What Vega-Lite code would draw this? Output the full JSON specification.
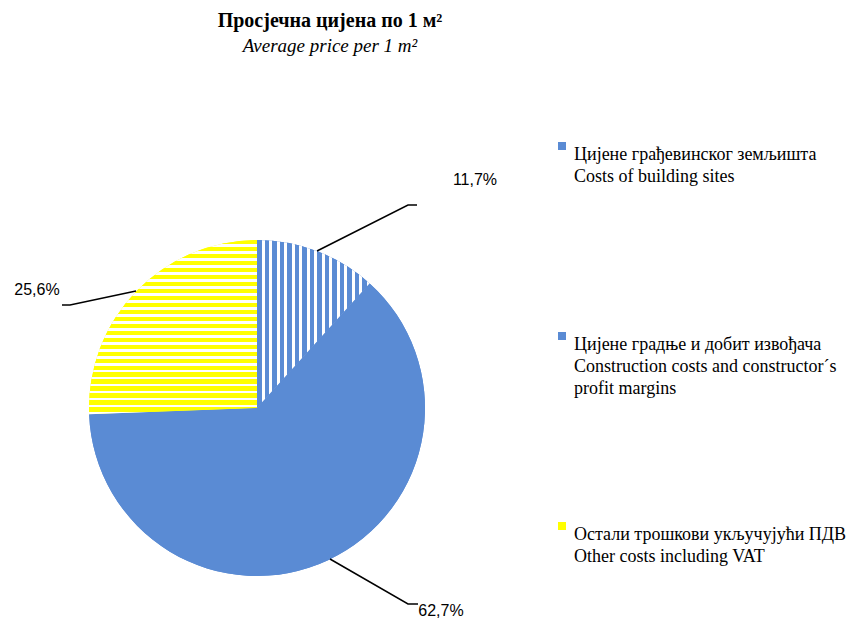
{
  "$schema": "https://vega.github.io/schema/vega-lite/v6.json",
  "autosize": "none",
  "padding": {"left": 0, "top": 193, "right": 337, "bottom": 0},
  "width": 514,
  "height": 430,
  "background": "white",
  "config": {"view": {"stroke": null}},
  "title": {
    "text": "Просјечна цијена по 1 м²",
    "subtitle": "Average price per 1 m²",
    "font": "Liberation Serif",
    "fontSize": 20,
    "fontWeight": "bold",
    "color": "black",
    "subtitleFont": "Liberation Serif",
    "subtitleFontSize": 19,
    "subtitleFontStyle": "italic",
    "subtitleColor": "black",
    "subtitlePadding": 6,
    "anchor": "middle",
    "dx": 73,
    "offset": 81
  },
  "datasets": {
    "slices": [
      {"cat": "Цијене грађевинског земљишта|Costs of building sites|", "share": 11.7, "ord": 1},
      {"cat": "Цијене градње и добит извођача|Construction costs and constructor´s|profit margins", "share": 62.7, "ord": 2},
      {"cat": "Остали трошкови укључујући ПДВ|Other costs including VAT|", "share": 25.6, "ord": 3}
    ],
    "leaders": [
      {"lbl": "11,7%", "step": 1, "px": 60, "py": -157},
      {"lbl": "11,7%", "step": 2, "px": 151, "py": -203},
      {"lbl": "11,7%", "step": 3, "px": 160, "py": -203},
      {"lbl": "25,6%", "step": 1, "px": -121, "py": -117},
      {"lbl": "25,6%", "step": 2, "px": -187, "py": -103},
      {"lbl": "25,6%", "step": 3, "px": -195, "py": -103},
      {"lbl": "62,7%", "step": 1, "px": 73, "py": 151},
      {"lbl": "62,7%", "step": 2, "px": 151, "py": 196},
      {"lbl": "62,7%", "step": 3, "px": 161, "py": 196}
    ],
    "labels": [
      {"lbl": "11,7%", "px": 218, "py": -228},
      {"lbl": "25,6%", "px": -220, "py": -118},
      {"lbl": "62,7%", "px": 184, "py": 203}
    ]
  },
  "layer": [
    {
      "data": {"name": "slices"},
      "mark": {"type": "arc", "outerRadius": 168},
      "encoding": {
        "theta": {"field": "share", "type": "quantitative", "stack": true},
        "order": {"field": "ord", "type": "quantitative"},
        "fill": {
          "field": "cat",
          "type": "nominal",
          "sort": null,
          "scale": {
            "domain": [
              "Цијене грађевинског земљишта|Costs of building sites|",
              "Цијене градње и добит извођача|Construction costs and constructor´s|profit margins",
              "Остали трошкови укључујући ПДВ|Other costs including VAT|"
            ],
            "range": ["#5A8BD4", "#5A8BD4", "#FFFF00"]
          },
          "legend": {
            "orient": "none",
            "legendX": 553,
            "legendY": -56,
            "title": null,
            "labelExpr": "split(datum.label, '|')",
            "labelFont": "Liberation Serif",
            "labelFontSize": 18,
            "labelColor": "black",
            "labelLimit": 400,
            "labelBaseline": "top",
            "labelOffset": 3,
            "symbolType": "square",
            "symbolSize": 64,
            "symbolStrokeWidth": 0,
            "rowPadding": 119,
            "encode": {"labels": {"update": {"lineHeight": {"value": 22}}}}
          }
        }
      }
    },
    {
      "data": {"name": "slices"},
      "mark": {"type": "arc", "outerRadius": 168},
      "encoding": {
        "theta": {"field": "share", "type": "quantitative", "stack": true},
        "order": {"field": "ord", "type": "quantitative"},
        "fill": {
          "condition": [
            {
              "test": "datum.ord == 1",
              "value": {
                "gradient": "linear", "x1": 0, "y1": 0, "x2": 1, "y2": 0,
                "stops": [
                  {"offset": 0, "color": "#5A8BD4"}, {"offset": 0.0413, "color": "#5A8BD4"}, {"offset": 0.0413, "color": "#ffffff"}, {"offset": 0.0667, "color": "#ffffff"},
                  {"offset": 0.0667, "color": "#5A8BD4"}, {"offset": 0.108, "color": "#5A8BD4"}, {"offset": 0.108, "color": "#ffffff"}, {"offset": 0.1333, "color": "#ffffff"},
                  {"offset": 0.1333, "color": "#5A8BD4"}, {"offset": 0.1747, "color": "#5A8BD4"}, {"offset": 0.1747, "color": "#ffffff"}, {"offset": 0.2, "color": "#ffffff"},
                  {"offset": 0.2, "color": "#5A8BD4"}, {"offset": 0.2413, "color": "#5A8BD4"}, {"offset": 0.2413, "color": "#ffffff"}, {"offset": 0.2667, "color": "#ffffff"},
                  {"offset": 0.2667, "color": "#5A8BD4"}, {"offset": 0.308, "color": "#5A8BD4"}, {"offset": 0.308, "color": "#ffffff"}, {"offset": 0.3333, "color": "#ffffff"},
                  {"offset": 0.3333, "color": "#5A8BD4"}, {"offset": 0.3747, "color": "#5A8BD4"}, {"offset": 0.3747, "color": "#ffffff"}, {"offset": 0.4, "color": "#ffffff"},
                  {"offset": 0.4, "color": "#5A8BD4"}, {"offset": 0.4413, "color": "#5A8BD4"}, {"offset": 0.4413, "color": "#ffffff"}, {"offset": 0.4667, "color": "#ffffff"},
                  {"offset": 0.4667, "color": "#5A8BD4"}, {"offset": 0.508, "color": "#5A8BD4"}, {"offset": 0.508, "color": "#ffffff"}, {"offset": 0.5333, "color": "#ffffff"},
                  {"offset": 0.5333, "color": "#5A8BD4"}, {"offset": 0.5747, "color": "#5A8BD4"}, {"offset": 0.5747, "color": "#ffffff"}, {"offset": 0.6, "color": "#ffffff"},
                  {"offset": 0.6, "color": "#5A8BD4"}, {"offset": 0.6413, "color": "#5A8BD4"}, {"offset": 0.6413, "color": "#ffffff"}, {"offset": 0.6667, "color": "#ffffff"},
                  {"offset": 0.6667, "color": "#5A8BD4"}, {"offset": 0.708, "color": "#5A8BD4"}, {"offset": 0.708, "color": "#ffffff"}, {"offset": 0.7333, "color": "#ffffff"},
                  {"offset": 0.7333, "color": "#5A8BD4"}, {"offset": 0.7747, "color": "#5A8BD4"}, {"offset": 0.7747, "color": "#ffffff"}, {"offset": 0.8, "color": "#ffffff"},
                  {"offset": 0.8, "color": "#5A8BD4"}, {"offset": 0.8413, "color": "#5A8BD4"}, {"offset": 0.8413, "color": "#ffffff"}, {"offset": 0.8667, "color": "#ffffff"},
                  {"offset": 0.8667, "color": "#5A8BD4"}, {"offset": 0.908, "color": "#5A8BD4"}, {"offset": 0.908, "color": "#ffffff"}, {"offset": 0.9333, "color": "#ffffff"},
                  {"offset": 0.9333, "color": "#5A8BD4"}, {"offset": 0.9747, "color": "#5A8BD4"}, {"offset": 0.9747, "color": "#ffffff"}, {"offset": 1, "color": "#ffffff"}
                ]
              }
            },
            {
              "test": "datum.ord == 3",
              "value": {
                "gradient": "linear", "x1": 0, "y1": 0, "x2": 0, "y2": 1,
                "stops": [
                  {"offset": 0, "color": "#FFFF00"}, {"offset": 0.024, "color": "#FFFF00"}, {"offset": 0.024, "color": "#ffffff"}, {"offset": 0.04, "color": "#ffffff"},
                  {"offset": 0.04, "color": "#FFFF00"}, {"offset": 0.064, "color": "#FFFF00"}, {"offset": 0.064, "color": "#ffffff"}, {"offset": 0.08, "color": "#ffffff"},
                  {"offset": 0.08, "color": "#FFFF00"}, {"offset": 0.104, "color": "#FFFF00"}, {"offset": 0.104, "color": "#ffffff"}, {"offset": 0.12, "color": "#ffffff"},
                  {"offset": 0.12, "color": "#FFFF00"}, {"offset": 0.144, "color": "#FFFF00"}, {"offset": 0.144, "color": "#ffffff"}, {"offset": 0.16, "color": "#ffffff"},
                  {"offset": 0.16, "color": "#FFFF00"}, {"offset": 0.184, "color": "#FFFF00"}, {"offset": 0.184, "color": "#ffffff"}, {"offset": 0.2, "color": "#ffffff"},
                  {"offset": 0.2, "color": "#FFFF00"}, {"offset": 0.224, "color": "#FFFF00"}, {"offset": 0.224, "color": "#ffffff"}, {"offset": 0.24, "color": "#ffffff"},
                  {"offset": 0.24, "color": "#FFFF00"}, {"offset": 0.264, "color": "#FFFF00"}, {"offset": 0.264, "color": "#ffffff"}, {"offset": 0.28, "color": "#ffffff"},
                  {"offset": 0.28, "color": "#FFFF00"}, {"offset": 0.304, "color": "#FFFF00"}, {"offset": 0.304, "color": "#ffffff"}, {"offset": 0.32, "color": "#ffffff"},
                  {"offset": 0.32, "color": "#FFFF00"}, {"offset": 0.344, "color": "#FFFF00"}, {"offset": 0.344, "color": "#ffffff"}, {"offset": 0.36, "color": "#ffffff"},
                  {"offset": 0.36, "color": "#FFFF00"}, {"offset": 0.384, "color": "#FFFF00"}, {"offset": 0.384, "color": "#ffffff"}, {"offset": 0.4, "color": "#ffffff"},
                  {"offset": 0.4, "color": "#FFFF00"}, {"offset": 0.424, "color": "#FFFF00"}, {"offset": 0.424, "color": "#ffffff"}, {"offset": 0.44, "color": "#ffffff"},
                  {"offset": 0.44, "color": "#FFFF00"}, {"offset": 0.464, "color": "#FFFF00"}, {"offset": 0.464, "color": "#ffffff"}, {"offset": 0.48, "color": "#ffffff"},
                  {"offset": 0.48, "color": "#FFFF00"}, {"offset": 0.504, "color": "#FFFF00"}, {"offset": 0.504, "color": "#ffffff"}, {"offset": 0.52, "color": "#ffffff"},
                  {"offset": 0.52, "color": "#FFFF00"}, {"offset": 0.544, "color": "#FFFF00"}, {"offset": 0.544, "color": "#ffffff"}, {"offset": 0.56, "color": "#ffffff"},
                  {"offset": 0.56, "color": "#FFFF00"}, {"offset": 0.584, "color": "#FFFF00"}, {"offset": 0.584, "color": "#ffffff"}, {"offset": 0.6, "color": "#ffffff"},
                  {"offset": 0.6, "color": "#FFFF00"}, {"offset": 0.624, "color": "#FFFF00"}, {"offset": 0.624, "color": "#ffffff"}, {"offset": 0.64, "color": "#ffffff"},
                  {"offset": 0.64, "color": "#FFFF00"}, {"offset": 0.664, "color": "#FFFF00"}, {"offset": 0.664, "color": "#ffffff"}, {"offset": 0.68, "color": "#ffffff"},
                  {"offset": 0.68, "color": "#FFFF00"}, {"offset": 0.704, "color": "#FFFF00"}, {"offset": 0.704, "color": "#ffffff"}, {"offset": 0.72, "color": "#ffffff"},
                  {"offset": 0.72, "color": "#FFFF00"}, {"offset": 0.744, "color": "#FFFF00"}, {"offset": 0.744, "color": "#ffffff"}, {"offset": 0.76, "color": "#ffffff"},
                  {"offset": 0.76, "color": "#FFFF00"}, {"offset": 0.784, "color": "#FFFF00"}, {"offset": 0.784, "color": "#ffffff"}, {"offset": 0.8, "color": "#ffffff"},
                  {"offset": 0.8, "color": "#FFFF00"}, {"offset": 0.824, "color": "#FFFF00"}, {"offset": 0.824, "color": "#ffffff"}, {"offset": 0.84, "color": "#ffffff"},
                  {"offset": 0.84, "color": "#FFFF00"}, {"offset": 0.864, "color": "#FFFF00"}, {"offset": 0.864, "color": "#ffffff"}, {"offset": 0.88, "color": "#ffffff"},
                  {"offset": 0.88, "color": "#FFFF00"}, {"offset": 0.904, "color": "#FFFF00"}, {"offset": 0.904, "color": "#ffffff"}, {"offset": 0.92, "color": "#ffffff"},
                  {"offset": 0.92, "color": "#FFFF00"}, {"offset": 0.944, "color": "#FFFF00"}, {"offset": 0.944, "color": "#ffffff"}, {"offset": 0.96, "color": "#ffffff"},
                  {"offset": 0.96, "color": "#FFFF00"}, {"offset": 0.984, "color": "#FFFF00"}, {"offset": 0.984, "color": "#ffffff"}, {"offset": 1, "color": "#ffffff"}
                ]
              }
            }
          ],
          "value": "#5A8BD4"
        }
      }
    },
    {
      "data": {"name": "leaders"},
      "mark": {"type": "line", "color": "black", "strokeWidth": 1.5},
      "encoding": {
        "x": {"field": "px", "type": "quantitative", "scale": {"domain": [-257, 257], "nice": false, "zero": false}, "axis": null},
        "y": {"field": "py", "type": "quantitative", "scale": {"domain": [-215, 215], "nice": false, "zero": false, "reverse": true}, "axis": null},
        "detail": {"field": "lbl", "type": "nominal"},
        "order": {"field": "step", "type": "quantitative"}
      }
    },
    {
      "data": {"name": "labels"},
      "mark": {"type": "text", "font": "Liberation Sans", "fontSize": 16, "color": "black", "align": "center", "baseline": "middle"},
      "encoding": {
        "x": {"field": "px", "type": "quantitative", "scale": {"domain": [-257, 257], "nice": false, "zero": false}, "axis": null},
        "y": {"field": "py", "type": "quantitative", "scale": {"domain": [-215, 215], "nice": false, "zero": false, "reverse": true}, "axis": null},
        "text": {"field": "lbl", "type": "nominal"}
      }
    }
  ]
}
